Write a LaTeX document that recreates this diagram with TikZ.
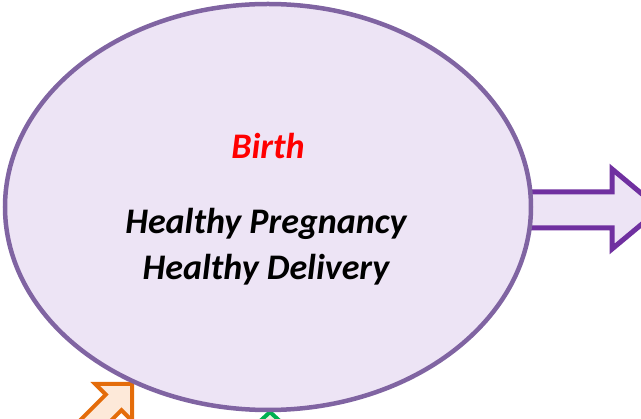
\documentclass[tikz,border=0pt]{standalone}
\usepackage{fontspec}
\setmainfont{Carlito}
\definecolor{ellfill}{RGB}{237,228,245}
\definecolor{elldraw}{RGB}{128,100,162}
\definecolor{arrdraw}{RGB}{112,48,160}
\definecolor{orgdraw}{RGB}{228,108,10}
\definecolor{orgfill}{RGB}{253,233,217}
\definecolor{grndraw}{RGB}{0,176,80}
\definecolor{grnfill}{RGB}{235,241,222}
\tikzset{
  bigtxt/.style={font=\fontsize{36}{46.7}\selectfont\bfseries\itshape, align=center, inner sep=0pt, anchor=base},
  blockarrow/.style={line width=#1, line join=miter},
}
\begin{document}
\begin{tikzpicture}[x=1pt,y=-1pt]
\useasboundingbox (0,0) rectangle (641,419);
\begin{scope}
\clip (0,0) rectangle (641,419);
% right arrow
\draw[blockarrow=5pt, draw=arrdraw, fill=ellfill]
  (500,192) -- (612,192) -- (612,169) -- (660,209) -- (612,249) -- (612,228) -- (500,228) -- cycle;
% orange arrow
\draw[blockarrow=4pt, draw=orgdraw, fill=orgfill]
  (132,384) -- (95.2,384) -- (105.8,394.6) -- (53.5,446.9) -- (69.1,462.5) -- (121.4,410.2) -- (132,420.8) -- cycle;
% green arrow
\draw[blockarrow=4pt, draw=grndraw, fill=grnfill]
  (270,412) -- (296,436) -- (282,436) -- (282,470) -- (258,470) -- (258,436) -- (244,436) -- cycle;
\end{scope}
\path[draw=elldraw, fill=ellfill, line width=4.5pt] (268,207) ellipse [x radius=263, y radius=203];
\node[bigtxt, text=red] (birth) at (268,158.3) {Birth};
\node[bigtxt] (t1) at (266,233.3) {Healthy Pregnancy};
\node[bigtxt] (t2) at (266,280) {Healthy Delivery};
\end{tikzpicture}
\end{document}
